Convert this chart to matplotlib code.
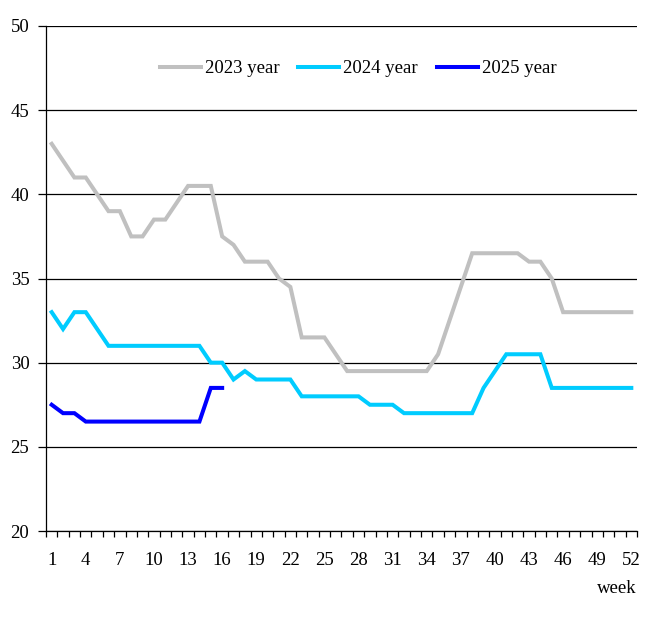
import matplotlib

matplotlib.use("Agg")

import matplotlib.pyplot as plt
from matplotlib.ticker import FixedLocator

plt.rcParams["font.family"] = ["Liberation Serif", "DejaVu Serif"]

WEEKS = list(range(1, 53))
YEAR_2023 = [
    43, 42, 41, 41, 40, 39, 39, 37.5, 37.5, 38.5,
    38.5, 39.5, 40.5, 40.5, 40.5, 37.5, 37, 36, 36, 36,
    35, 34.5, 31.5, 31.5, 31.5, 30.5, 29.5, 29.5, 29.5, 29.5,
    29.5, 29.5, 29.5, 29.5, 30.5, 32.5, 34.5, 36.5, 36.5, 36.5,
    36.5, 36.5, 36, 36, 35, 33, 33, 33, 33, 33,
    33, 33,
]
YEAR_2024 = [
    33, 32, 33, 33, 32, 31, 31, 31, 31, 31,
    31, 31, 31, 31, 30, 30, 29, 29.5, 29, 29,
    29, 29, 28, 28, 28, 28, 28, 28, 27.5, 27.5,
    27.5, 27, 27, 27, 27, 27, 27, 27, 28.5, 29.5,
    30.5, 30.5, 30.5, 30.5, 28.5, 28.5, 28.5, 28.5, 28.5, 28.5,
    28.5, 28.5,
]
YEAR_2025 = [27.5, 27, 27, 26.5, 26.5, 26.5, 26.5, 26.5, 26.5, 26.5,
             26.5, 26.5, 26.5, 26.5, 28.5, 28.5]

SERIES = [
    ("2023 year", YEAR_2023, "#C0C0C0"),
    ("2024 year", YEAR_2024, "#00CCFF"),
    ("2025 year", YEAR_2025, "#0000FF"),
]
X_TICK_LABELS = list(range(1, 53, 3))
Y_TICKS = [20, 25, 30, 35, 40, 45, 50]
FONT_SIZE = 13.5


def main() -> None:
    fig = plt.figure(figsize=(6.59, 6.22), dpi=100)
    ax = fig.add_axes([0.0698, 0.1463, 0.8968, 0.8119])

    for label, values, color in SERIES:
        ax.plot(WEEKS[: len(values)], values, color=color, linewidth=2.9,
                label=label, solid_joinstyle="miter")

    ax.set_xlim(0.5, 52.5)
    ax.set_ylim(20, 50)
    ax.set_yticks(Y_TICKS)
    ax.yaxis.grid(True, color="black", linewidth=0.9)
    ax.set_axisbelow(True)

    ax.set_xticks(X_TICK_LABELS)
    ax.xaxis.set_minor_locator(FixedLocator([w + 0.5 for w in range(0, 53)]))
    ax.tick_params(axis="x", which="major", length=0, pad=15, labelsize=FONT_SIZE)
    ax.tick_params(axis="x", which="minor", length=4, width=0.9, direction="out")
    ax.tick_params(axis="y", length=6, width=0.9, pad=6, labelsize=FONT_SIZE)

    for side in ("top", "right"):
        ax.spines[side].set_visible(False)
    for side in ("left", "bottom"):
        ax.spines[side].set_linewidth(0.9)

    fig.text(0.9666, 0.054, "week", ha="right", va="center", fontsize=FONT_SIZE)

    ax.legend(loc="center", bbox_to_anchor=(0.528, 0.915), ncol=3, frameon=False,
              fontsize=FONT_SIZE, handlelength=2.2, handletextpad=0.2,
              columnspacing=1.0)

    fig.savefig("out.png", dpi=100)
    plt.close(fig)


if __name__ == "__main__":
    main()
